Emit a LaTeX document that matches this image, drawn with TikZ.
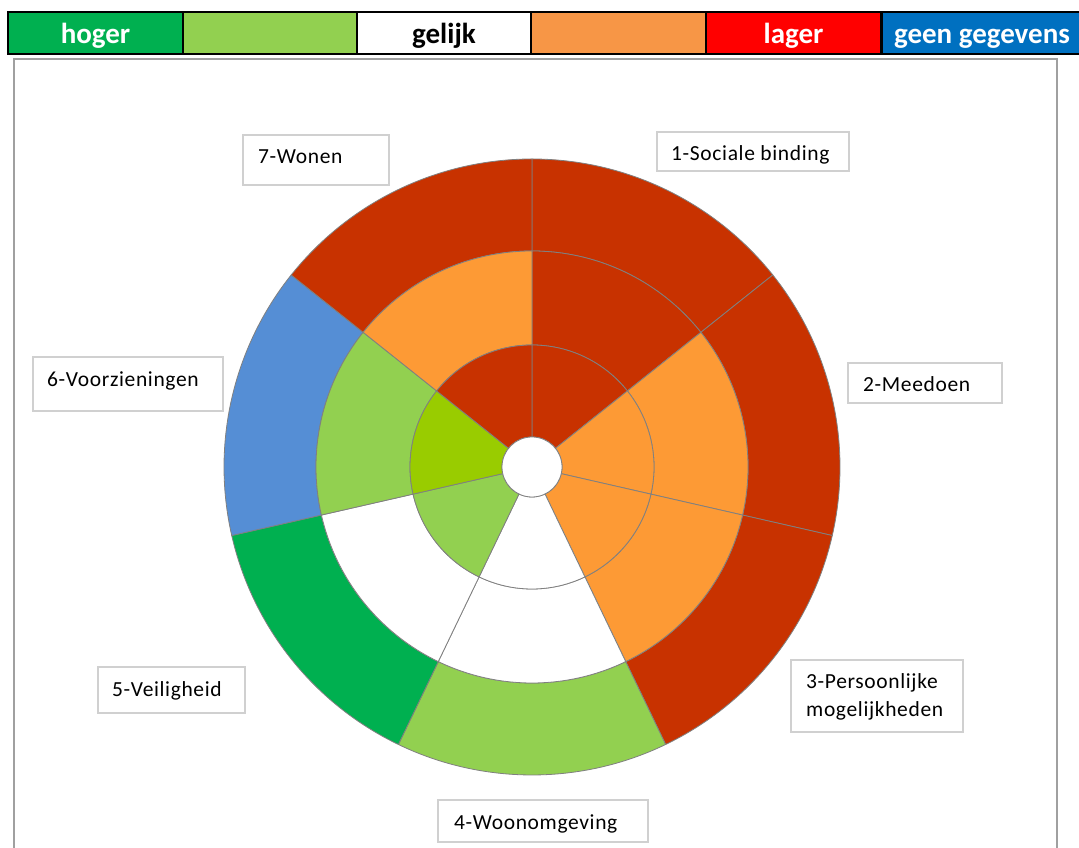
\documentclass[tikz,border=0pt]{standalone}
\usepackage{fontspec}
\setmainfont{Carlito}
\definecolor{dred}{HTML}{C83200}
\definecolor{orng}{HTML}{FD9A35}
\definecolor{lgrn}{HTML}{92D050}
\definecolor{ygrn}{HTML}{99CC00}
\definecolor{blu}{HTML}{558ED5}
\definecolor{grn}{HTML}{00B050}
\definecolor{legGreen}{HTML}{00B050}
\definecolor{legLight}{HTML}{92D050}
\definecolor{legOrange}{HTML}{F79646}
\definecolor{legRed}{HTML}{FF0000}
\definecolor{legBlue}{HTML}{0070C0}
\definecolor{segline}{HTML}{808080}
\definecolor{boxline}{HTML}{D0D0D0}
\definecolor{frameline}{HTML}{A0A0A0}
\tikzset{
  seg/.style={draw=segline, line width=0.8pt, line join=round},
  legcell/.style={draw=black, line width=2.5pt, minimum height=42pt, inner sep=0pt,
    font=\bfseries\fontsize{29}{32}\selectfont, text height=25pt, text depth=4pt},
  lblbox/.style={draw=boxline, line width=1.2pt, fill=white, inner sep=0pt},
  lblfont/.style={font=\fontsize{21.5}{28}\selectfont\addfontfeature{LetterSpace=3}},
  lbltext/.style={lblfont, inner sep=0pt, anchor=west, text height=19pt, text depth=3pt},
  lbltwo/.style={lblfont, inner sep=0pt, anchor=west, align=left}
}
\newcommand\seg[5]{\filldraw[seg, fill=#5] (#1:#4) arc[start angle=#1, end angle=#2, radius=#4pt] -- (#2:#3) arc[start angle=#2, end angle=#1, radius=#3pt] -- cycle;}
\begin{document}
\begin{tikzpicture}[x=1pt,y=1pt]
\useasboundingbox (0,0) rectangle (1079,848);
\fill[white] (0,0) rectangle (1079,848);
% legend
\node[legcell, fill=legGreen, minimum width=175pt, text=white] (l1) at (95.5,815) {hoger};
\node[legcell, fill=legLight, minimum width=174pt] (l2) at (270,815) {};
\node[legcell, fill=white, minimum width=174pt, text=black] (l3) at (444,815) {gelijk};
\node[legcell, fill=legOrange, minimum width=175pt] (l4) at (618.5,815) {};
\node[legcell, fill=legRed, minimum width=175pt, text=white] (l5) at (793.5,815) {lager};
\node[legcell, fill=legBlue, minimum width=200pt, text=white] (l6) at (982,815) {geen gegevens};
% frame
\draw[frameline, line width=1.5pt] (14,-10) -- (14,789) -- (1057,789) -- (1057,-10);
% chart
\begin{scope}[shift={(532,381)}]
% sector 1
\seg{90}{38.5714}{216}{308}{dred}
\seg{90}{38.5714}{122}{216}{dred}
\seg{90}{38.5714}{30}{122}{dred}
% sector 2
\seg{38.5714}{-12.8571}{216}{308}{dred}
\seg{38.5714}{-12.8571}{122}{216}{orng}
\seg{38.5714}{-12.8571}{30}{122}{orng}
% sector 3
\seg{-12.8571}{-64.2857}{216}{308}{dred}
\seg{-12.8571}{-64.2857}{122}{216}{orng}
\seg{-12.8571}{-64.2857}{30}{122}{orng}
% sector 4
\seg{-64.2857}{-115.7143}{216}{308}{lgrn}
\seg{-64.2857}{-115.7143}{122}{216}{white}
\seg{-64.2857}{-115.7143}{30}{122}{white}
% sector 5
\seg{-115.7143}{-167.1429}{216}{308}{grn}
\seg{-115.7143}{-167.1429}{122}{216}{white}
\seg{-115.7143}{-167.1429}{30}{122}{lgrn}
% sector 6
\seg{-167.1429}{-218.5714}{216}{308}{blu}
\seg{-167.1429}{-218.5714}{122}{216}{lgrn}
\seg{-167.1429}{-218.5714}{30}{122}{ygrn}
% sector 7
\seg{-218.5714}{-270}{216}{308}{dred}
\seg{-218.5714}{-270}{122}{216}{orng}
\seg{-218.5714}{-270}{30}{122}{dred}
\filldraw[seg, fill=white] (0,0) circle[radius=30pt];
\end{scope}
% labels
\node[lblbox, minimum width=192pt, minimum height=39pt] (b1) at (753,696.5) {};
\node[lbltext] (t1) at (671,695) {1-Sociale binding};
\node[lblbox, minimum width=154pt, minimum height=40pt] (b2) at (925,465) {};
\node[lbltext] (t2) at (863,464) {2-Meedoen};
\node[lblbox, minimum width=172pt, minimum height=72pt] (b3) at (877,152) {};
\node[lbltwo] (t3) at (806,151.5) {3-Persoonlijke\\mogelijkheden};
\node[lblbox, minimum width=210pt, minimum height=42pt] (b4) at (543,27) {};
\node[lbltext] (t4) at (454,26) {4-Woonomgeving};
\node[lblbox, minimum width=147pt, minimum height=46pt] (b5) at (171.5,158) {};
\node[lbltext] (t5) at (112,159) {5-Veiligheid};
\node[lblbox, minimum width=190pt, minimum height=54pt] (b6) at (128,464) {};
\node[lbltext] (t6) at (47,469) {6-Voorzieningen};
\node[lblbox, minimum width=146pt, minimum height=50pt] (b7) at (316,688) {};
\node[lbltext] (t7) at (258,692) {7-Wonen};
\end{tikzpicture}
\end{document}
